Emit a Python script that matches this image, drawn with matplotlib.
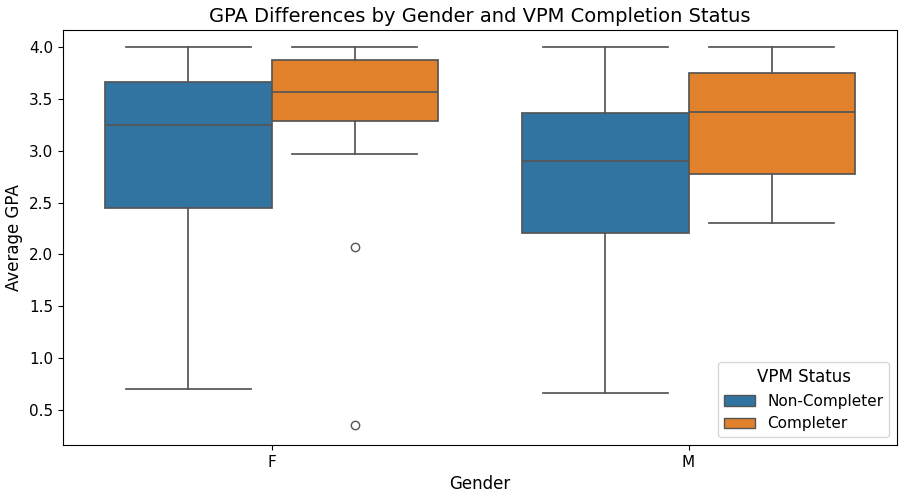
import matplotlib
matplotlib.use("Agg")
import matplotlib.pyplot as plt
from matplotlib.patches import Patch

genders = ["F", "M"]
statuses = ["Non-Completer", "Completer"]
colors = ["#3274a1", "#e1812c"]

# [gender][status] stats
whislo = [[0.70, 2.97], [0.66, 2.30]]
q1 = [[2.45, 3.286], [2.21, 2.78]]
med = [[3.25, 3.566], [2.90, 3.37]]
q3 = [[3.66, 3.875], [3.36, 3.75]]
whishi = [[4.0, 4.0], [4.0, 4.0]]
fliers = [[[], [2.07, 0.355]], [[], []]]

fig = plt.figure(figsize=(9.01, 4.95), dpi=100)
ax = fig.add_axes([63/901, 1-445/495, (897-63)/901, (445-30)/495])

line_c = "#555555"
width = 0.4
for gi, g in enumerate(genders):
    for si, s in enumerate(statuses):
        pos = gi + (si - 0.5) * width
        st = dict(whislo=whislo[gi][si], q1=q1[gi][si], med=med[gi][si],
                  q3=q3[gi][si], whishi=whishi[gi][si], fliers=fliers[gi][si])
        ax.bxp([st], positions=[pos], widths=width, patch_artist=True,
               showfliers=True, manage_ticks=False,
               boxprops=dict(facecolor=colors[si], edgecolor=line_c, linewidth=1.25),
               medianprops=dict(color=line_c, linewidth=1.25),
               whiskerprops=dict(color=line_c, linewidth=1.25),
               capprops=dict(color=line_c, linewidth=1.25),
               capwidths=width * 0.75,
               flierprops=dict(marker="o", markerfacecolor="none",
                               markeredgecolor=line_c, markersize=6, markeredgewidth=1))

ax.set_xlim(-0.5, 1.5)
ax.set_ylim(0.163, 4.164)
ax.set_xticks(range(len(genders)))
ax.set_xticklabels(genders)
ax.set_yticks([0.5, 1.0, 1.5, 2.0, 2.5, 3.0, 3.5, 4.0])
ax.tick_params(labelsize=11)
ax.set_xlabel("Gender", fontsize=12)
ax.set_ylabel("Average GPA", fontsize=12)
ax.set_title("GPA Differences by Gender and VPM Completion Status", fontsize=14)

handles = [Patch(facecolor=colors[i], edgecolor=line_c, label=statuses[i]) for i in range(2)]
leg = ax.legend(handles=handles, title="VPM Status", loc="lower right",
                fontsize=11, title_fontsize=12)

fig.savefig("out.png", dpi=100)
